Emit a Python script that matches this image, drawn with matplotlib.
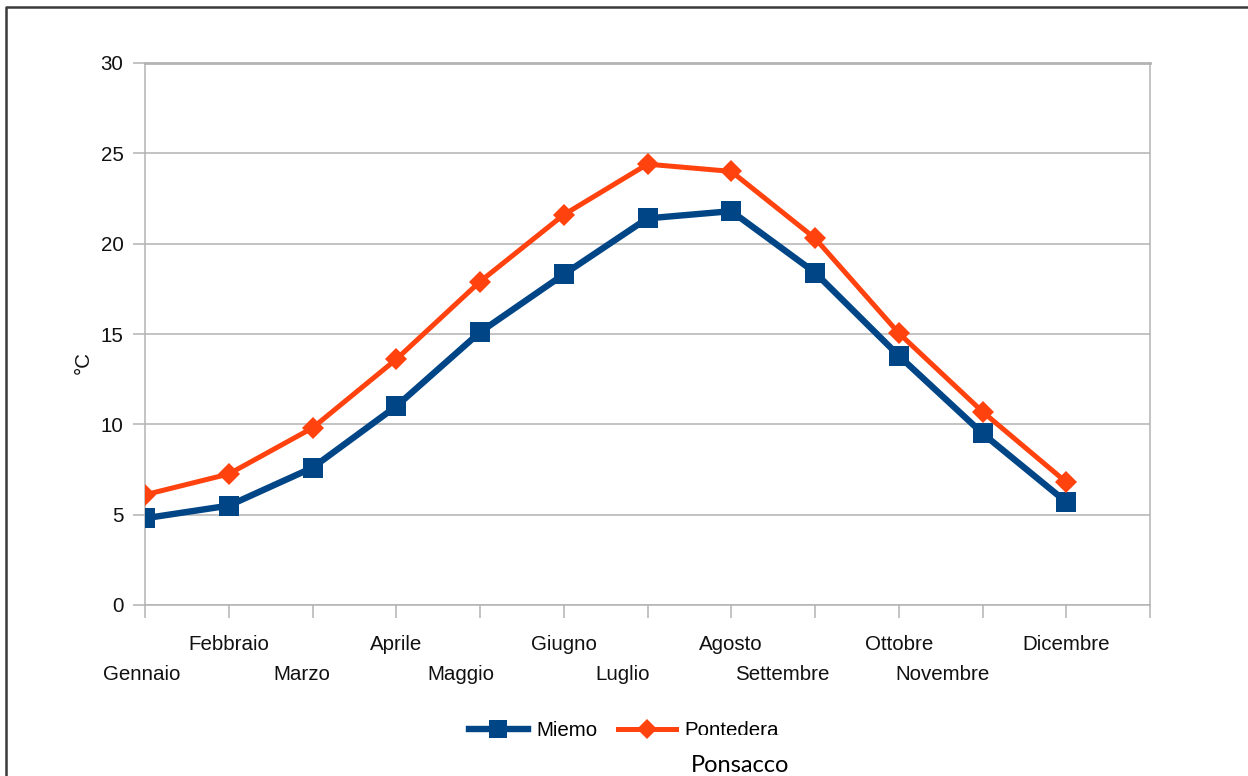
import matplotlib
matplotlib.use("Agg")
import matplotlib.pyplot as plt
from matplotlib.lines import Line2D
from matplotlib.patches import Rectangle

mesi = ["Gennaio", "Febbraio", "Marzo", "Aprile", "Maggio", "Giugno",
        "Luglio", "Agosto", "Settembre", "Ottobre", "Novembre", "Dicembre"]
miemo = [4.8, 5.5, 7.6, 11.0, 15.1, 18.3, 21.4, 21.8, 18.4, 13.8, 9.5, 5.7]
pontedera = [6.1, 7.25, 9.8, 13.6, 17.9, 21.6, 24.4, 24.0, 20.3, 15.05, 10.7, 6.8]
yticks = [0, 5, 10, 15, 20, 25, 30]

BLUE = "#004586"
ORANGE = "#ff420e"
GRID = "#b3b3b3"
TXT = "#111111"
FS = 14.8

plt.rcParams["font.family"] = ["Liberation Sans", "DejaVu Sans"]

W, H = 1248, 776
fig = plt.figure(figsize=(W / 100, H / 100), dpi=100)
ax = fig.add_axes([145 / W, 171 / H, 1005 / W, 542 / H])

x = list(range(len(mesi)))
ax.plot(x, miemo, color=BLUE, lw=4.6, marker="s", ms=14.5, mew=0,
        label="Miemo", zorder=4)
ax.plot(x, pontedera, color=ORANGE, lw=3.6, marker="D", ms=11, mew=0,
        label="Pontedera", zorder=5)

ax.set_xlim(0, 12)
ax.set_ylim(0, 30)
ax.set_yticks(yticks)
ax.set_yticklabels([str(v) for v in yticks])

# tick marks at every month; even months labelled on the upper row
ax.set_xticks(range(13))
ax.set_xticklabels([m if i % 2 else "" for i, m in enumerate(mesi)] + [""])

# odd months on the lower row, drifting left as in the original layout
shift_px = [-3, -11, -19, -25, -33, -40]
for k, i in enumerate(range(0, 12, 2)):
    ax.annotate(mesi[i], xy=(i, 0), xycoords=("data", "axes fraction"),
                xytext=(shift_px[k] * 0.72, -60 * 0.72), textcoords="offset points",
                ha="center", va="top", fontsize=FS, color=TXT,
                annotation_clip=False)

ax.tick_params(axis="x", length=9.5, width=1.1, color=GRID, pad=12.3,
               labelsize=FS, labelcolor=TXT)
ax.tick_params(axis="y", length=8.5, width=1.1, color=GRID, pad=7,
               labelsize=FS, labelcolor=TXT)

ax.grid(axis="y", color=GRID, lw=1.1, zorder=0)
for s in ax.spines.values():
    s.set_color(GRID)
    s.set_linewidth(1.1)
ax.spines["top"].set_linewidth(2)

ax.set_ylabel("°C", fontsize=FS, color=TXT, va="center")
ax.yaxis.set_label_coords(-0.061, 0.448)

leg = fig.legend(ncol=2, loc="center", bbox_to_anchor=(624 / W, 1 - 731 / H),
                 frameon=False, fontsize=FS, handlelength=2.85,
                 handletextpad=0.4, columnspacing=1.0, markerscale=0.9)

# legend area is cut off just below the line
fig.add_artist(Rectangle((682 / W, 0), 120 / W, (H - 735) / H,
                         transform=fig.transFigure, facecolor="white",
                         edgecolor="none", zorder=10))

fig.text(740 / W, 1 - 772 / H, "Ponsacco", ha="center", va="baseline",
         fontsize=17, family=["Lato", "DejaVu Sans"], color="black", zorder=11)

# outer frame, top and left edges
fig.add_artist(Line2D([5.5 / W, 5.5 / W, 1.0], [0.0, 1 - 6.5 / H, 1 - 6.5 / H],
                      transform=fig.transFigure, color="#3a3a3a", lw=1.8))

fig.savefig("out.png", dpi=100)
